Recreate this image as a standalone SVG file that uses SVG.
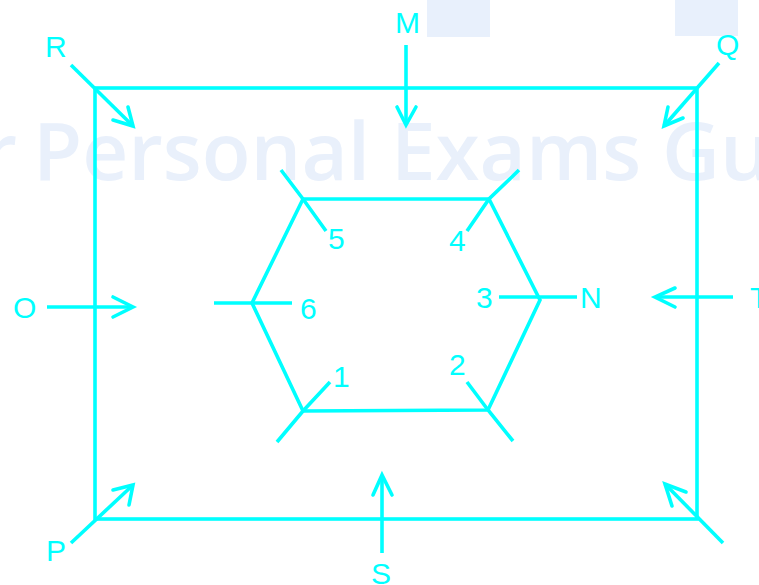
<svg xmlns="http://www.w3.org/2000/svg" width="759" height="585" viewBox="0 0 759 585">
<style>
.wm{fill:#E9F0FB;font-family:"Open Sans","Liberation Sans",sans-serif;font-weight:600;font-size:80px}
.ln{fill:none;stroke:#00FFFF;stroke-width:3.6;stroke-linecap:butt;stroke-linejoin:miter}
.hd{fill:none;stroke:#00FFFF;stroke-width:3.6;stroke-linecap:round;stroke-linejoin:miter}
.lb{fill:#00FFFF;font-family:"Liberation Sans",Arial,sans-serif;font-size:30px}
</style>
<rect width="759" height="585" fill="#FFFFFF"/>
<g id="watermark">
<rect x="427" y="0" width="63" height="37" fill="#E8F0FC"/>
<rect x="675" y="0" width="63" height="36" fill="#E8F0FC"/>
<text class="wm" y="180"><tspan x="17" text-anchor="end">Your</tspan><tspan x="33" text-anchor="start">Personal Exams Guide</tspan></text>
</g>
<g id="frame">
<rect class="ln" x="95" y="88" width="602" height="431"/>
</g>
<g id="hexagon">
<polygon class="ln" points="303,199 489,199 540,300 488,410 303,411 252,303"/>
<polyline class="ln" points="281,170 303,199 326,231"/>
<polyline class="ln" points="519,170 489,199 467,231"/>
<polyline class="ln" points="330,382 303,411 277,442"/>
<polyline class="ln" points="467,382 488,410 513,441"/>
<line class="ln" x1="214" y1="303" x2="292" y2="303"/>
<line class="ln" x1="499" y1="297" x2="577" y2="297"/>
</g>
<g id="connectors">
<line class="ln" x1="71" y1="65" x2="133" y2="126"/>
<polyline class="hd" points="113,120 133,126 128,107"/>
<line class="ln" x1="406" y1="45" x2="406" y2="125"/>
<polyline class="hd" points="397,107 406,125 416,107"/>
<line class="ln" x1="719" y1="63" x2="664" y2="126"/>
<polyline class="hd" points="668,107 664,126 683,118"/>
<line class="ln" x1="47" y1="307" x2="133" y2="307"/>
<polyline class="hd" points="113,297 133,307 113,317"/>
<line class="ln" x1="733" y1="297" x2="655" y2="297"/>
<polyline class="hd" points="675,288 655,297 675,307"/>
<line class="ln" x1="71" y1="543" x2="133" y2="485"/>
<polyline class="hd" points="113,490 133,485 129,505"/>
<line class="ln" x1="382" y1="553" x2="382" y2="475"/>
<polyline class="hd" points="373,495 382,475 392,495"/>
<line class="ln" x1="723" y1="543" x2="665" y2="484"/>
<polyline class="hd" points="686,492 665,484 672,506"/>
</g>
<g id="labels">
<text class="lb" x="45" y="57">R</text>
<text class="lb" x="395" y="33">M</text>
<text class="lb" x="716" y="55">Q</text>
<text class="lb" x="13" y="318">O</text>
<text class="lb" x="750" y="308">T</text>
<text class="lb" x="580" y="308">N</text>
<text class="lb" x="476" y="308">3</text>
<text class="lb" x="300" y="319">6</text>
<text class="lb" x="328" y="249">5</text>
<text class="lb" x="449" y="251">4</text>
<text class="lb" x="333" y="387">1</text>
<text class="lb" x="449" y="375">2</text>
<text class="lb" x="46" y="561">P</text>
<text class="lb" x="371" y="584">S</text>
</g>
</svg>
